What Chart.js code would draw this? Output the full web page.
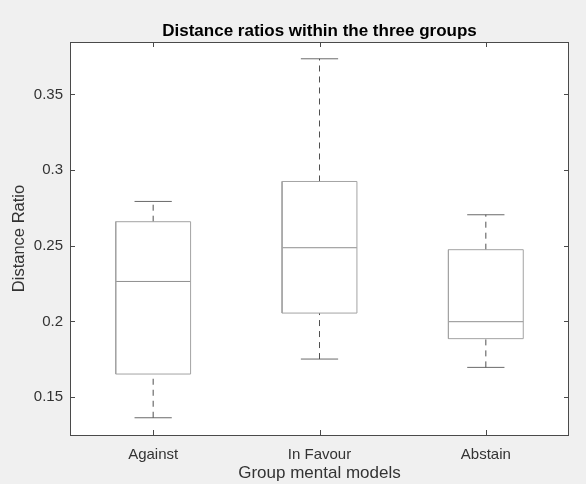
<!DOCTYPE html>
<html>
<head>
<meta charset="utf-8">
<script src="https://cdn.jsdelivr.net/npm/chart.js@4.4.1/dist/chart.umd.min.js"></script>
<style>
  html, body { margin: 0; padding: 0; background: #f0f0f0; }
</style>
</head>
<body>
<canvas id="boxChart" width="586" height="484"></canvas>
<script>
// values
const groups = ['Against', 'In Favour', 'Abstain'];
const lowerWhisker = [0.1363, 0.1751, 0.1696];
const q1 = [0.1652, 0.2055, 0.1886];
const median = [0.2264, 0.2487, 0.1998];
const q3 = [0.2659, 0.2925, 0.2474];
const upperWhisker = [0.2793, 0.3736, 0.2705];
const yTicks = [0.15, 0.2, 0.25, 0.3, 0.35];

const BOX_HALF = 0.225;
const CAP_HALF = 0.112;
const FONT = '"Liberation Sans", Arial, sans-serif';

function seg(points, color, dash) {
    return {
        data: points,
        showLine: true,
        borderColor: color,
        borderWidth: 1,
        borderDash: dash || [],
        pointRadius: 0,
        fill: false,
        tension: 0
    };
}

const datasets = [];
groups.forEach((g, i) => {
    const x = i + 1;
    datasets.push(seg([
        { x: x - BOX_HALF, y: q1[i] }, { x: x + BOX_HALF, y: q1[i] },
        { x: x + BOX_HALF, y: q3[i] }, { x: x - BOX_HALF, y: q3[i] },
        { x: x - BOX_HALF, y: q1[i] }
    ], '#a3a3a3'));
    datasets.push(seg([{ x: x - BOX_HALF, y: median[i] }, { x: x + BOX_HALF, y: median[i] }], '#8f8f8f'));
    datasets.push(seg([{ x: x, y: q3[i] }, { x: x, y: upperWhisker[i] }], '#505050', [6, 5]));
    datasets.push(seg([{ x: x, y: lowerWhisker[i] }, { x: x, y: q1[i] }], '#505050', [6, 5]));
    datasets.push(seg([{ x: x - CAP_HALF, y: upperWhisker[i] }, { x: x + CAP_HALF, y: upperWhisker[i] }], '#6a6a6a'));
    datasets.push(seg([{ x: x - CAP_HALF, y: lowerWhisker[i] }, { x: x + CAP_HALF, y: lowerWhisker[i] }], '#6a6a6a'));
});

// white axes area, box outline and inward ticks like matlab
const matlabAxes = {
    id: 'matlabAxes',
    beforeDatasetsDraw(chart) {
        const { ctx, chartArea: a } = chart;
        ctx.save();
        ctx.fillStyle = '#ffffff';
        ctx.fillRect(a.left, a.top, a.right - a.left, a.bottom - a.top);
        ctx.restore();
    },
    afterDraw(chart) {
        const { ctx, chartArea: a, scales } = chart;
        ctx.save();
        ctx.strokeStyle = '#4a4a4a';
        ctx.lineWidth = 1;
        ctx.strokeRect(a.left + 0.5, a.top + 0.5, a.right - a.left - 1, a.bottom - a.top);
        ctx.beginPath();
        groups.forEach((g, i) => {
            const px = Math.round(scales.x.getPixelForValue(i + 1)) + 0.5;
            ctx.moveTo(px, a.bottom); ctx.lineTo(px, a.bottom - 5);
            ctx.moveTo(px, a.top); ctx.lineTo(px, a.top + 5);
        });
        yTicks.forEach(v => {
            const py = Math.round(scales.y.getPixelForValue(v)) + 0.5;
            ctx.moveTo(a.left, py); ctx.lineTo(a.left + 5, py);
            ctx.moveTo(a.right, py); ctx.lineTo(a.right - 5, py);
        });
        ctx.stroke();
        ctx.restore();
    }
};

const ctx = document.getElementById('boxChart').getContext('2d');

new Chart(ctx, {
    type: 'scatter',
    data: { datasets: datasets },
    plugins: [matlabAxes],
    options: {
        responsive: false,
        animation: false,
        layout: { padding: { left: 0, right: 17, top: 0, bottom: 0 } },
        plugins: {
            legend: { display: false },
            tooltip: { enabled: false },
            title: { display: false }
        },
        scales: {
            x: {
                type: 'linear',
                position: 'bottom',
                min: 0.5,
                max: 3.5,
                afterFit: s => { s.height = 49; },
                afterBuildTicks: s => { s.ticks = groups.map((g, i) => ({ value: i + 1 })); },
                grid: { display: false, drawTicks: false },
                border: { display: false },
                ticks: {
                    autoSkip: false,
                    maxRotation: 0,
                    padding: 11,
                    color: '#333333',
                    font: { family: FONT, size: 15 },
                    callback: v => groups[Math.round(v) - 1]
                },
                title: {
                    display: true,
                    text: 'Group mental models',
                    color: '#333333',
                    font: { family: FONT, size: 17 },
                    padding: { top: 0, bottom: 0 }
                }
            },
            top: {
                type: 'linear',
                position: 'top',
                min: 0.5,
                max: 3.5,
                afterFit: s => { s.height = 42; },
                grid: { display: false, drawTicks: false },
                border: { display: false },
                ticks: { display: false },
                title: {
                    display: true,
                    text: 'Distance ratios within the three groups',
                    color: '#000000',
                    font: { family: FONT, size: 17, weight: 'bold' },
                    padding: { top: 21, bottom: 0 }
                }
            },
            y: {
                type: 'linear',
                min: 0.1249,
                max: 0.3847,
                afterFit: s => { s.width = 70; },
                afterBuildTicks: s => { s.ticks = yTicks.map(v => ({ value: v })); },
                grid: { display: false, drawTicks: false },
                border: { display: false },
                ticks: {
                    padding: 7,
                    color: '#333333',
                    font: { family: FONT, size: 15 },
                    callback: v => String(v)
                },
                title: {
                    display: true,
                    text: 'Distance Ratio',
                    color: '#333333',
                    font: { family: FONT, size: 16.5 },
                    padding: { top: 10, bottom: 0 }
                }
            }
        }
    }
});
</script>
</body>
</html>
